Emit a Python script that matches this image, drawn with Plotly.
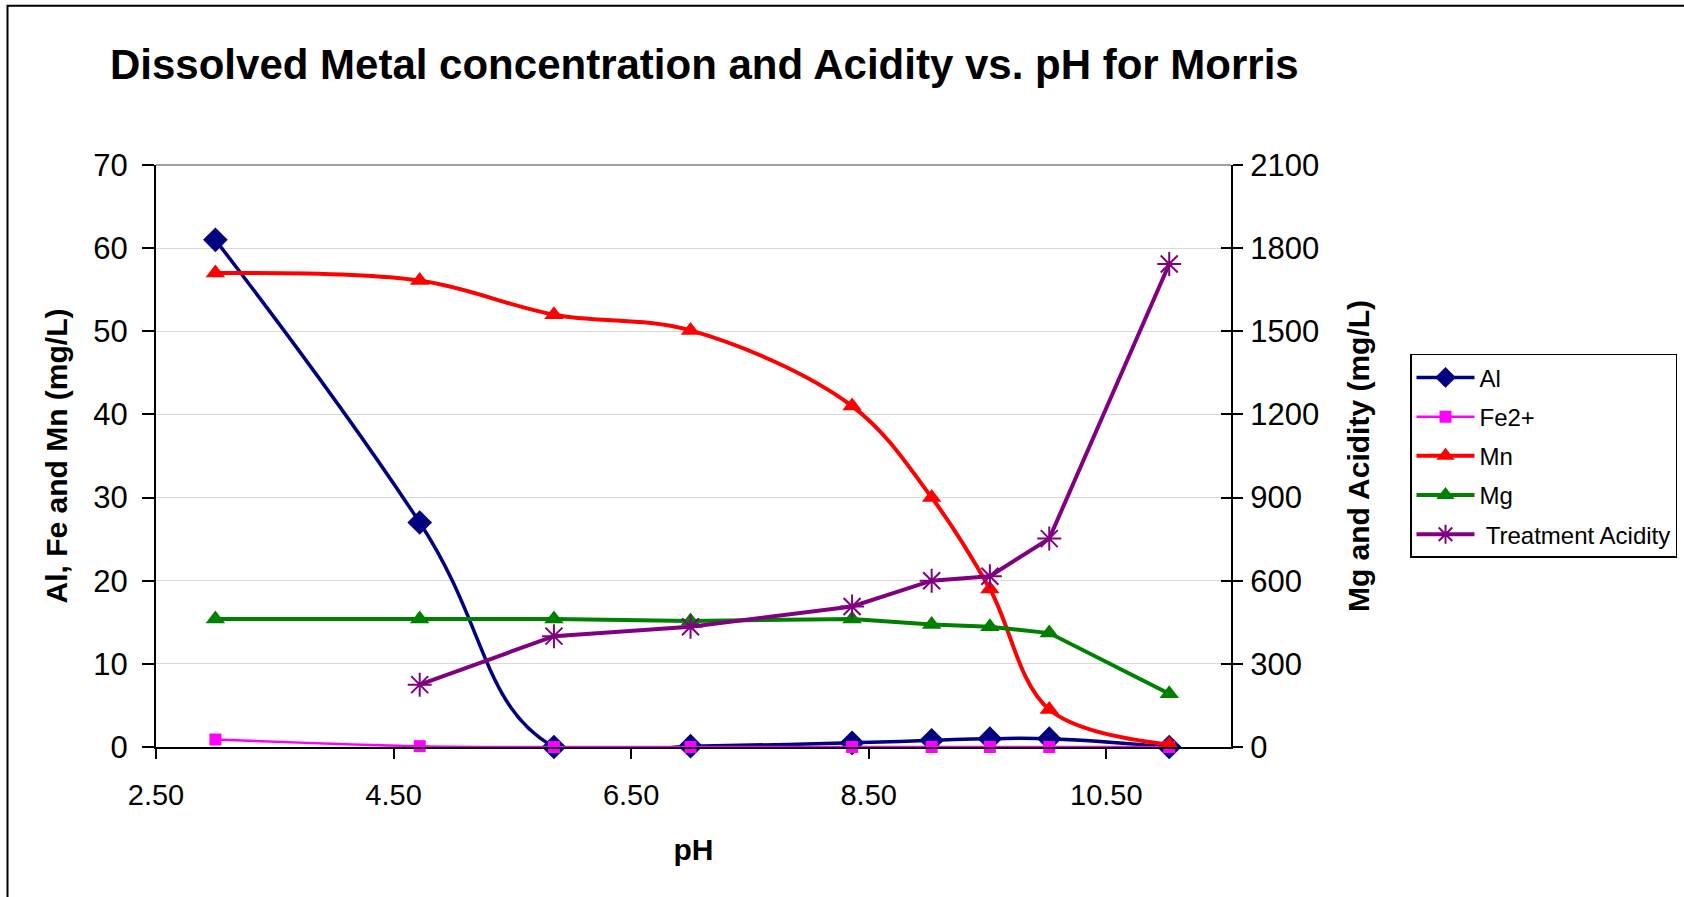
import plotly.graph_objects as go

ph = [3.0, 4.72, 5.85, 7.0, 8.36, 9.03, 9.52, 10.02, 11.03]
al = [61.0, 27.0, 0.0, 0.1, 0.5, 0.8, 1.0, 1.0, 0.0]
fe = [0.9, 0.1, 0.0, 0.0, 0.0, 0.0, 0.0, 0.0, 0.0]
mn = [57.0, 56.1, 52.0, 50.1, 41.0, 30.0, 19.0, 4.5, 0.3]
mg = [462, 462, 462, 455, 462, 442, 434, 411, 192]
ph_acid = [4.72, 5.85, 7.0, 8.36, 9.03, 9.52, 10.02, 11.03]
acidity = [225, 400, 434, 507, 600, 616, 752, 1743]

left_ticks = [0, 10, 20, 30, 40, 50, 60, 70]
right_ticks = [0, 300, 600, 900, 1200, 1500, 1800, 2100]
x_ticks = [2.5, 4.5, 6.5, 8.5, 10.5]

FONT = "Liberation Sans, Arial, sans-serif"

fig = go.Figure()
fig.add_trace(go.Scatter(x=ph, y=al, name="Al", mode="lines+markers", legendgroup="a",
                         line=dict(color="#000080", width=3.5, shape="spline", smoothing=1.3),
                         marker=dict(symbol="diamond", size=19, color="#000080"), cliponaxis=False))
fig.add_trace(go.Scatter(x=ph, y=fe, name="Fe2+", mode="lines+markers", legendgroup="b",
                         line=dict(color="#FF00FF", width=2.5, shape="spline"),
                         marker=dict(symbol="square", size=12, color="#FF00FF"), cliponaxis=False))
fig.add_trace(go.Scatter(x=ph, y=mn, name="Mn", mode="lines+markers", legendgroup="c",
                         line=dict(color="#FF0000", width=4, shape="spline"),
                         marker=dict(symbol="triangle-up", size=17, color="#FF0000"), cliponaxis=False))
fig.add_trace(go.Scatter(x=ph, y=mg, name="Mg", mode="lines+markers", legendgroup="d", yaxis="y2",
                         line=dict(color="#008000", width=4),
                         marker=dict(symbol="triangle-up", size=17, color="#008000"), cliponaxis=False))
fig.add_trace(go.Scatter(x=ph_acid, y=acidity, name=" Treatment Acidity", mode="lines+markers",
                         legendgroup="e", yaxis="y2",
                         line=dict(color="#800080", width=4),
                         marker=dict(symbol="asterisk-open", size=20, color="#800080",
                                     line=dict(color="#800080", width=2)), cliponaxis=False))

fig.update_layout(
    width=1684, height=897,
    margin=dict(l=156, r=453, t=165, b=150, autoexpand=False),
    paper_bgcolor="white", plot_bgcolor="white",
    font=dict(family=FONT, color="black", size=29),
    title=dict(text="<b>Dissolved Metal concentration and Acidity vs. pH for Morris</b>",
               x=110 / 1684, xanchor="left", xref="container",
               y=1 - 64 / 897, yanchor="middle", yref="container",
               font=dict(size=42, family=FONT, color="black")),
    xaxis=dict(range=[2.5, 11.55], tickmode="array", tickvals=x_ticks,
               ticktext=[f"{v:.2f}" for v in x_ticks],
               showgrid=False, zeroline=False, showline=True, linecolor="black", linewidth=2,
               ticks="outside", ticklen=10, tickwidth=2, tickcolor="black",
               ticklabelstandoff=11, tickfont=dict(size=29), automargin=False,
               title=dict(text="<b>pH</b>", font=dict(size=30), standoff=29)),
    yaxis=dict(range=[0, 70], tickmode="array", tickvals=left_ticks,
               showgrid=True, gridcolor="#d9d9d9", gridwidth=1, zeroline=False,
               showline=True, linecolor="black", linewidth=2,
               ticks="outside", ticklen=12, tickwidth=2, tickcolor="black",
               ticklabelstandoff=8, tickfont=dict(size=31), automargin=False,
               title=dict(text="<b>Al, Fe and Mn (mg/L)</b>", font=dict(size=30), standoff=17)),
    yaxis2=dict(range=[0, 2100], tickmode="array", tickvals=right_ticks, overlaying="y", side="right",
                showgrid=False, zeroline=False, showline=True, linecolor="black", linewidth=2,
                ticks="outside", ticklen=10, tickwidth=2, tickcolor="black",
                ticklabelstandoff=1, tickfont=dict(size=31), automargin=False,
                title=dict(text="<b>Mg and Acidity (mg/L)</b>", font=dict(size=30), standoff=30)),
    yaxis3=dict(range=[0, 2100], tickmode="array", tickvals=right_ticks, overlaying="y", side="right",
                anchor="x", showgrid=False, zeroline=False, showline=False, showticklabels=False,
                ticks="inside", ticklen=10, tickwidth=2, tickcolor="black", automargin=False),
    legend=dict(x=(1410 - 156) / 1075, y=(747.5 - 354) / 582.5, xanchor="left", yanchor="top",
                bgcolor="white", bordercolor="black", borderwidth=1.5,
                font=dict(size=24, family=FONT), tracegroupgap=5, itemwidth=58),
    showlegend=True,
)

# gray top border line of plot area and outer chart frame
fig.add_shape(type="line", xref="paper", yref="paper", x0=0, x1=1, y0=1, y1=1,
              line=dict(color="#a0a0a0", width=2))
fig.add_shape(type="rect", xref="paper", yref="paper",
              x0=(7.5 - 156) / 1075, x1=1.6, y0=-0.5, y1=(747.5 - 5.5) / 582.5,
              line=dict(color="black", width=2), layer="below")

# dummy trace to activate yaxis3 (crossing ticks on right axis)
fig.add_trace(go.Scatter(x=[None], y=[None], yaxis="y3", showlegend=False, hoverinfo="skip"))

fig.write_html("out.html", config={"displayModeBar": False},
               post_script="document.body.style.margin='0px';document.body.style.overflow='hidden';")
